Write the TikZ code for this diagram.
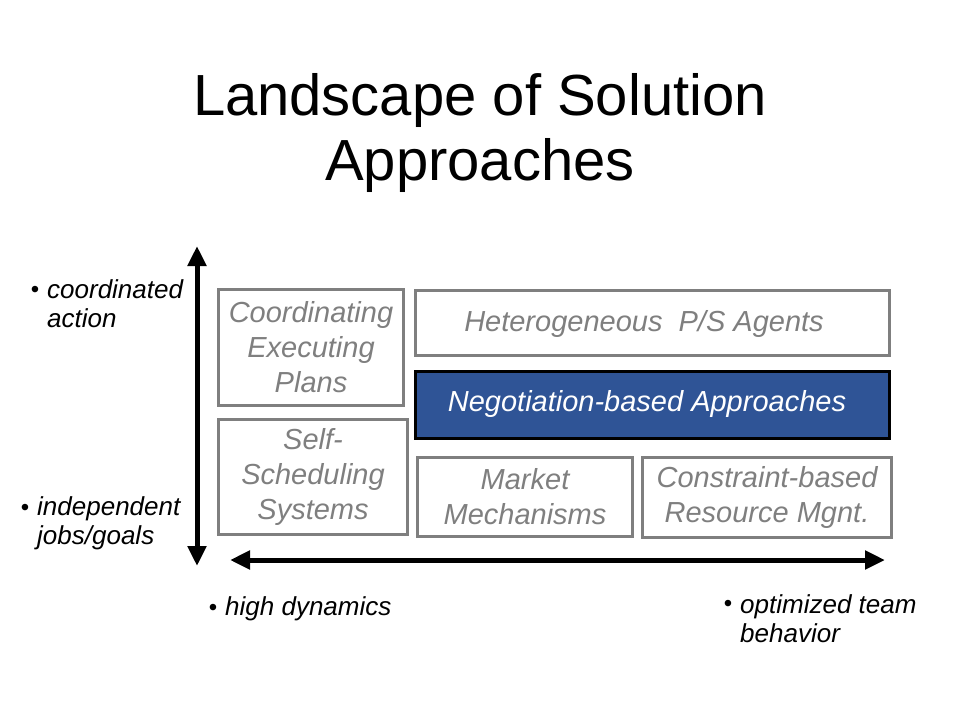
\documentclass[tikz,border=0pt]{standalone}
\usepackage{fontspec}
\setmainfont{Liberation Sans}
\usetikzlibrary{arrows.meta}
\definecolor{boxgray}{RGB}{127,127,127}
\definecolor{negblue}{RGB}{47,84,150}
\begin{document}
\begin{tikzpicture}[x=1pt,y=-1pt,
  box/.style={draw=boxgray,line width=3pt,inner sep=0pt,align=center,
    text=boxgray,font=\fontsize{29}{35}\selectfont\itshape},
  lbl/.style={inner sep=0pt,align=left,font=\fontsize{26}{29}\selectfont\itshape},
  bul/.style={inner sep=0pt,font=\fontsize{24}{29}\selectfont},
  axis/.style={line width=5pt,{Triangle[length=20pt,width=18pt]}-{Triangle[length=20pt,width=18pt]}}]
\useasboundingbox (0,0) rectangle (960,720);
% title
\node[inner sep=0pt,align=center,font=\fontsize{58}{65}\selectfont] (title) at (480,133) {Landscape of Solution\\Approaches};
% boxes
\node[box,minimum width=185pt,minimum height=116pt] (cep) at (311,347.5) {Coordinating\\Executing\\Plans};
\node[box,minimum width=189pt,minimum height=115pt] (sss) at (313,477) {Self-\\Scheduling\\Systems};
\node[box,minimum width=474pt,minimum height=65pt] (het) at (652.5,323) {};
\node[inner sep=0pt,text=boxgray,font=\fontsize{29}{35}\selectfont\itshape] (hett) at (644,324) {Heterogeneous\ \ P/S Agents};
\node[box,draw=black,fill=negblue,minimum width=474pt,minimum height=67pt] (neg) at (652.5,405) {};
\node[inner sep=0pt,text=white,font=\fontsize{29}{35}\selectfont\itshape] (negt) at (647,404) {Negotiation-based\ Approaches};
\node[box,minimum width=215pt,minimum height=79pt] (mm) at (525,497) {Market\\Mechanisms};
\node[box,minimum width=249pt,minimum height=80pt] (cbr) at (767,497.5) {Constraint-based\\Resource Mgnt.};
% axes
\coordinate (vtop) at (197,246);
\coordinate (vbot) at (197,566);
\coordinate (hl) at (230,560);
\coordinate (hr) at (885,560);
\draw[axis] (vbot) -- (vtop);
\draw[axis] (hl) -- (hr);
% left labels
\node[bul] (b1) at (35,292) {•};
\node[lbl,anchor=west] (l1) at (47,304) {coordinated\\action};
\node[bul] (b2) at (25,510) {•};
\node[lbl,anchor=west] (l2) at (37,523) {independent\\jobs/goals};
% bottom labels
\node[bul] (b3) at (213,610) {•};
\node[lbl,anchor=west] (l3) at (225,609) {high dynamics};
\node[bul] (b4) at (728,606) {•};
\node[lbl,anchor=west] (l4) at (740,619) {optimized team\\behavior};
\end{tikzpicture}
\end{document}
